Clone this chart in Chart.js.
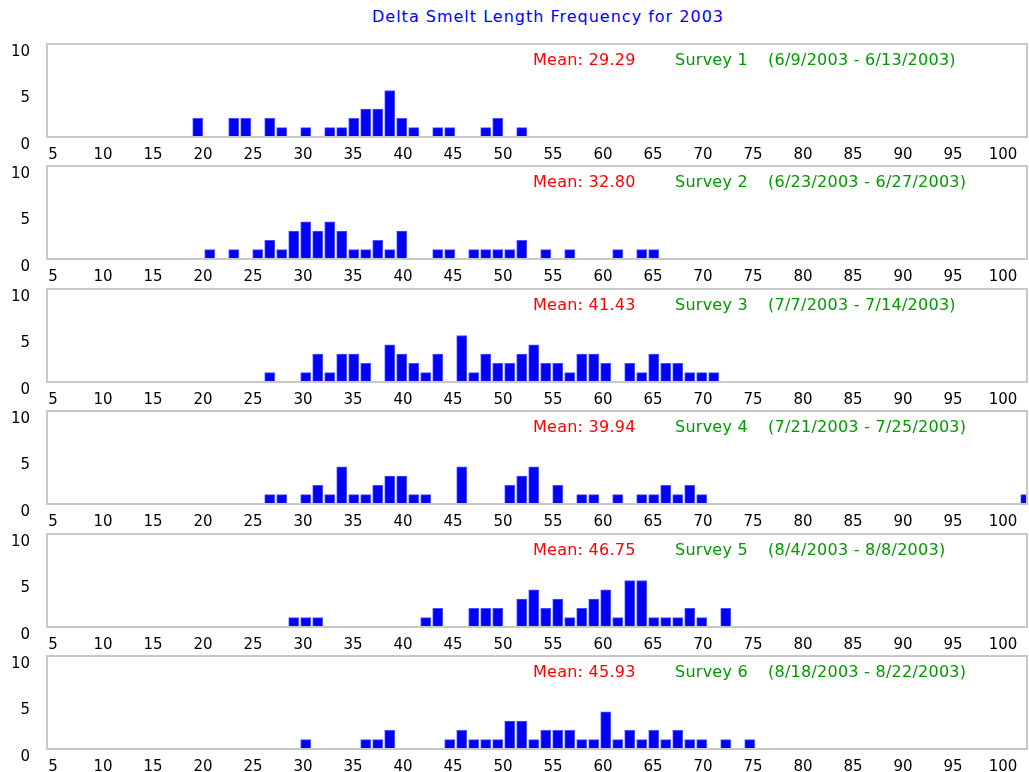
<!DOCTYPE html>
<html>
<head>
<meta charset="utf-8">
<script src="https://cdn.jsdelivr.net/npm/chart.js@4.4.0/dist/chart.umd.min.js"></script>
<style>
    html, body { margin: 0; padding: 0; background: #fff; }
    #wrap { position: relative; width: 1029px; height: 772px; overflow: hidden; font-family: "DejaVu Sans", sans-serif; }
    #title { position: absolute; top: 7px; left: 548px; transform: translateX(-50%); color: #0000ff; font-size: 16px; letter-spacing: 1px; line-height: 20px; white-space: nowrap; }
    .panel { position: absolute; left: 0; width: 1029px; height: 122px; }
    .panel canvas { position: absolute; left: 0; top: 0; }
    .note { position: absolute; top: 10px; font-size: 16px; letter-spacing: 0.25px; line-height: 20px; white-space: nowrap; }
    .mean { left: 533px; color: #ff0000; }
    .survey { left: 675px; color: #009900; }
    .dates { left: 768px; color: #009900; }
</style>
</head>
<body>
<div id="wrap">
    <div id="title">Delta Smelt Length Frequency for 2003</div>
</div>
<script>
// tick labels
var xTicks = [5, 10, 15, 20, 25, 30, 35, 40, 45, 50, 55, 60, 65, 70, 75, 80, 85, 90, 95, 100];
var yTicks = [0, 5, 10];

// survey captions
var surveyNames = ['Survey 1', 'Survey 2', 'Survey 3', 'Survey 4', 'Survey 5', 'Survey 6'];
var surveyDates = ['(6/9/2003 - 6/13/2003)', '(6/23/2003 - 6/27/2003)', '(7/7/2003 - 7/14/2003)',
    '(7/21/2003 - 7/25/2003)', '(8/4/2003 - 8/8/2003)', '(8/18/2003 - 8/22/2003)'];
var means = ['29.29', '32.80', '41.43', '39.94', '46.75', '45.93'];

// length (mm) -> number of fish, one pair per survey
var lengths1 = [16, 19, 20, 22, 23, 25, 27, 28, 29, 30, 31, 32, 33, 34, 36, 37, 40, 41, 43];
var counts1 = [2, 2, 2, 2, 1, 1, 1, 1, 2, 3, 3, 5, 2, 1, 1, 1, 1, 2, 1];

var lengths2 = [17, 19, 21, 22, 23, 24, 25, 26, 27, 28, 29, 30, 31, 32, 33, 36, 37, 39, 40, 41, 42, 43, 45, 47, 51, 53, 54];
var counts2 = [1, 1, 1, 2, 1, 3, 4, 3, 4, 3, 1, 1, 2, 1, 3, 1, 1, 1, 1, 1, 1, 2, 1, 1, 1, 1, 1];

var lengths3 = [22, 25, 26, 27, 28, 29, 30, 32, 33, 34, 35, 36, 38, 39, 40, 41, 42, 43, 44, 45, 46, 47, 48, 49, 50, 52, 53, 54, 55, 56, 57, 58, 59];
var counts3 = [1, 1, 3, 1, 3, 3, 2, 4, 3, 2, 1, 3, 5, 1, 3, 2, 2, 3, 4, 2, 2, 1, 3, 3, 2, 2, 1, 3, 2, 2, 1, 1, 1];

var lengths4 = [22, 23, 25, 26, 27, 28, 29, 30, 31, 32, 33, 34, 35, 38, 42, 43, 44, 46, 48, 49, 51, 53, 54, 55, 56, 57, 58, 85];
var counts4 = [1, 1, 1, 2, 1, 4, 1, 1, 2, 3, 3, 1, 1, 4, 2, 3, 4, 2, 1, 1, 1, 1, 1, 2, 1, 2, 1, 1];

var lengths5 = [24, 25, 26, 35, 36, 39, 40, 41, 43, 44, 45, 46, 47, 48, 49, 50, 51, 52, 53, 54, 55, 56, 57, 58, 60];
var counts5 = [1, 1, 1, 1, 2, 2, 2, 2, 3, 4, 2, 3, 1, 2, 3, 4, 1, 5, 5, 1, 1, 1, 2, 1, 2];

var lengths6 = [25, 30, 31, 32, 37, 38, 39, 40, 41, 42, 43, 44, 45, 46, 47, 48, 49, 50, 51, 52, 53, 54, 55, 56, 57, 58, 60, 62];
var counts6 = [1, 1, 1, 2, 1, 2, 1, 1, 1, 3, 3, 1, 2, 2, 2, 1, 1, 4, 1, 2, 1, 2, 1, 2, 1, 1, 1, 1];

var allLengths = [lengths1, lengths2, lengths3, lengths4, lengths5, lengths6];
var allCounts = [counts1, counts2, counts3, counts4, counts5, counts6];

// grey box round the plot area
var framePlugin = {
    id: 'frame',
    afterDraw: function (chart) {
        var a = chart.chartArea;
        var ctx = chart.ctx;
        ctx.save();
        ctx.strokeStyle = '#c8c8c8';
        ctx.lineWidth = 2;
        ctx.strokeRect(a.left, a.top, a.right - a.left, a.bottom - a.top);
        ctx.restore();
    }
};

var tickFont = { family: '"DejaVu Sans", sans-serif', size: 15 };
var wrap = document.getElementById('wrap');

allLengths.forEach(function (lengths, i) {
    var panel = document.createElement('div');
    panel.className = 'panel';
    panel.style.top = Math.round(40 + 122.4 * i) + 'px';
    panel.innerHTML =
        '<canvas width="1029" height="122"></canvas>' +
        '<span class="note mean">Mean: ' + means[i] + '</span>' +
        '<span class="note survey">' + surveyNames[i] + '</span>' +
        '<span class="note dates">' + surveyDates[i] + '</span>';
    wrap.appendChild(panel);

    var counts = allCounts[i];
    var points = lengths.map(function (len, j) {
        return { x: len, y: counts[j] };
    });

    new Chart(panel.querySelector('canvas'), {
        type: 'bar',
        data: {
            datasets: [{
                data: points,
                xAxisID: 'x',
                yAxisID: 'y',
                backgroundColor: '#0000ff',
                borderColor: '#4d4dff',
                borderWidth: 1,
                barThickness: 10,
                clip: 0
            }]
        },
        options: {
            responsive: false,
            animation: false,
            events: [],
            layout: { padding: { top: 4, right: 2, left: 0, bottom: 0 } },
            plugins: { legend: { display: false }, tooltip: { enabled: false } },
            scales: {
                // bars sit on this one (fish length in mm)
                x: {
                    type: 'linear',
                    display: false,
                    offset: false,
                    min: 3.442,
                    max: 85.108
                },
                // the printed length scale under each panel
                x2: {
                    type: 'linear',
                    position: 'bottom',
                    offset: false,
                    min: 4.4,
                    max: 102.4,
                    grid: { display: false, offset: false },
                    border: { display: false },
                    afterBuildTicks: function (scale) {
                        scale.ticks = xTicks.map(function (v) { return { value: v }; });
                    },
                    afterFit: function (scale) {
                        scale.height = 25;
                        scale.paddingLeft = 0;
                        scale.paddingRight = 0;
                    },
                    ticks: { autoSkip: false, maxRotation: 0, color: '#000', font: tickFont, padding: 1 }
                },
                y: {
                    min: 0,
                    max: 10,
                    grid: { display: false },
                    border: { display: false },
                    afterBuildTicks: function (scale) {
                        scale.ticks = yTicks.map(function (v) { return { value: v }; });
                    },
                    afterFit: function (scale) {
                        scale.width = 47;
                        scale.paddingTop = 0;
                        scale.paddingBottom = 0;
                    },
                    ticks: { color: '#000', font: tickFont, padding: 9, labelOffset: 8 }
                }
            }
        },
        plugins: [framePlugin]
    });
});
</script>
</body>
</html>
